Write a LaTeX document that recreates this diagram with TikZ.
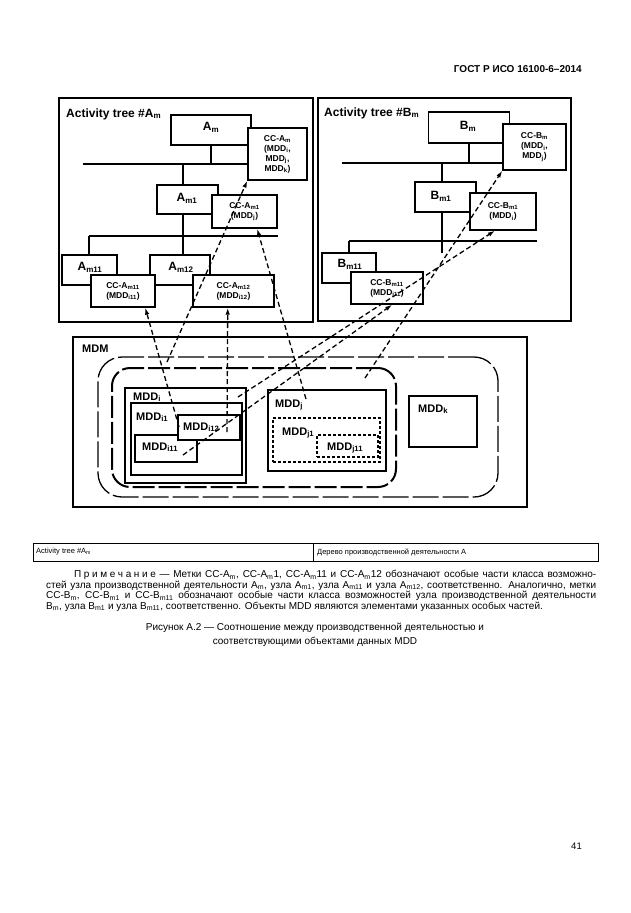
\documentclass[tikz,border=0pt]{standalone}
\usepackage{fontspec}
\setmainfont{Liberation Sans}
\usetikzlibrary{arrows.meta,calc}
\newcommand\sbx[1]{\textsubscript{#1}}
\tikzset{
 bx/.style={draw, line width=1.4pt, fill=white, inner sep=0pt},
 frm/.style={draw, line width=2pt, inner sep=0pt},
 ccbx/.style={bx, align=center, font=\fontsize{8.5}{10}\selectfont\bfseries},
 lbl/.style={font=\fontsize{12}{14}\selectfont\bfseries, inner sep=0pt},
 mlbl/.style={font=\fontsize{11}{13}\selectfont\bfseries, inner sep=0pt, anchor=base west},
 tl/.style={line width=1.4pt},
 arr/.style={line width=1.3pt, dash pattern=on 5pt off 3pt, -{Latex[length=7pt,width=4.5pt]}},
 dotbx/.style={draw, line width=1.5pt, dash pattern=on 3pt off 2pt, inner sep=0pt},
 note/.style={font=\fontsize{10}{11}\selectfont, inner sep=0pt, anchor=base west},
 capt/.style={font=\fontsize{10}{11}\selectfont, inner sep=0pt, anchor=base},
 tcell/.style={font=\fontsize{7.5}{8}\selectfont, inner sep=0pt, anchor=west},
}
\begin{document}
\begin{tikzpicture}[x=1pt,y=-1pt]
\fill[white] (0,0) rectangle (630,913);
\useasboundingbox (0,0) rectangle (630,913);

\node[font=\fontsize{10}{12}\selectfont\bfseries, anchor=base east, inner sep=0pt] (hdr) at (582,72) {ГОСТ Р ИСО 16100-6–2014};

% ---------- Tree A ----------
\node[frm, minimum width=254, minimum height=224] (treeA) at (186,210) {};
\node[lbl, anchor=base west] (ttlA) at (66,117) {Activity tree \#A\sbx{m}};
\node[bx, minimum width=80, minimum height=30] (am) at (211,130) {};
\node[bx, minimum width=61, minimum height=29] (am1) at (187.5,199.5) {};
\node[bx, minimum width=55, minimum height=30] (am11) at (89.5,270) {};
\node[bx, minimum width=60, minimum height=30] (am12) at (180,270) {};
\node[lbl] (amt) at (211,127) {A\sbx{m}};
\node[lbl] (am1t) at (187,198) {A\sbx{m1}};
\node[lbl] (am11t) at (90,267) {A\sbx{m11}};
\node[lbl] (am12t) at (181,267) {A\sbx{m12}};

\coordinate (busAl) at (83,164);
\coordinate (busAj) at (183,164);
\coordinate (busBl) at (89,236);
\draw[tl, line width=2.6pt] (am.south) -- (am.south |- busAl);
\draw[tl] (busAj) -- (am1.north -| busAj);
\draw[tl] (am1.south -| busAj) -- (busAj |- busBl);
\draw[tl] (busBl) -- (am11.north -| busBl);
\draw[tl] (busBl -| busAj) -- (am12.north -| busAj);

\node[ccbx, minimum width=59, minimum height=52] (cca) at (277.5,154) {CC-A\sbx{m}\\(MDD\sbx{i},\\MDD\sbx{j},\\MDD\sbx{k})};
\node[ccbx, minimum width=65, minimum height=33] (cca1) at (244.5,211.5) {CC-A\sbx{m1}\\(MDD\sbx{j})};
\node[ccbx, minimum width=64, minimum height=32] (cca11) at (123,291) {CC-A\sbx{m11}\\(MDD\sbx{i11})};
\node[ccbx, minimum width=81, minimum height=32] (cca12) at (233.5,291) {CC-A\sbx{m12}\\(MDD\sbx{i12})};
\draw[tl] (busAl) -- (busAl -| cca.west);
\draw[tl] (busBl) -- (busBl -| cca1.east);

% ---------- Tree B ----------
\node[frm, minimum width=253, minimum height=223] (treeB) at (444.5,209.5) {};
\node[lbl, anchor=base west] (ttlB) at (324,116) {Activity tree \#B\sbx{m}};
\node[bx, minimum width=81, minimum height=31] (bm) at (469,127.5) {};
\node[bx, minimum width=61, minimum height=30] (bm1) at (445.5,197) {};
\node[bx, minimum width=54, minimum height=30] (bm11) at (349,268) {};
\node[lbl] (bmt) at (468,126) {B\sbx{m}};
\node[lbl] (bm1t) at (441,196) {B\sbx{m1}};
\node[lbl] (bm11t) at (350,264) {B\sbx{m11}};

\coordinate (busCl) at (342,163);
\coordinate (busCj) at (442,163);
\coordinate (busDl) at (349,241);
\coordinate (stemB) at (442,253);
\draw[tl] (bm.south) -- (bm.south |- busCl);
\draw[tl] (busCj) -- (bm1.north -| busCj);
\draw[tl] (bm1.south -| busCj) -- (stemB);
\draw[tl] (busDl) -- (bm11.north -| busDl);

\node[ccbx, minimum width=63, minimum height=46] (ccb) at (534.5,147) {CC-B\sbx{m}\\(MDD\sbx{i},\\MDD\sbx{j})};
\node[ccbx, minimum width=66, minimum height=37] (ccb1) at (503,211.5) {CC-B\sbx{m1}\\(MDD\sbx{i})};
\node[ccbx, minimum width=72, minimum height=32] (ccb11) at (387,288) {CC-B\sbx{m11}\\(MDD\sbx{i11})};
\draw[tl] (busCl) -- (busCl -| ccb.west);
\draw[tl] (busDl) -- (busDl -| ccb1.east);

% ---------- MDM ----------
\node[frm, minimum width=454, minimum height=170] (mdm) at (300,422) {};
\node[mlbl] (mdmt) at (82,352) {MDM};
\node[draw, rounded corners=24pt, line width=1.3pt, dash pattern=on 26pt off 4pt, minimum width=400, minimum height=140, inner sep=0pt] (outr) at (298,427) {};
\node[draw, rounded corners=18pt, line width=2pt, dash pattern=on 22pt off 4pt, minimum width=284, minimum height=119, inner sep=0pt] (innr) at (254,427.5) {};

\node[bx, line width=2pt, minimum width=121, minimum height=95] (mi) at (185.5,435.5) {};
\node[bx, line width=1.5pt, minimum width=111, minimum height=72] (mi1) at (186.5,439) {};
\node[bx, line width=1.5pt, minimum width=62, minimum height=27] (mi11) at (166,448.5) {};
\node[bx, line width=2pt, minimum width=62, minimum height=25] (mi12) at (209,427.5) {};
\node[bx, line width=2pt, minimum width=118, minimum height=81] (mj) at (327,430.5) {};
\node[dotbx, minimum width=107, minimum height=44] (mj1) at (326.5,440) {};
\node[dotbx, minimum width=61, minimum height=22] (mj11) at (347.5,446) {};
\node[bx, line width=1.6pt, minimum width=68, minimum height=51] (mk) at (443,421.5) {};

\node[mlbl] (mit) at (133,400) {MDD\sbx{i}};
\node[mlbl] (mi1t) at (136,420) {MDD\sbx{i1}};
\node[mlbl] (mi12t) at (183,430) {MDD\sbx{i12}};
\node[mlbl] (mi11t) at (142,450) {MDD\sbx{i11}};
\node[mlbl] (mjt) at (275,407) {MDD\sbx{j}};
\node[mlbl] (mj1t) at (282,435) {MDD\sbx{j1}};
\node[mlbl] (mj11t) at (327,450) {MDD\sbx{j11}};
\node[mlbl] (mkt) at (418,412) {MDD\sbx{k}};

% ---------- dashed arrows ----------
\coordinate (s1) at (179,427);
\coordinate (s3) at (306,399);
\coordinate (s4) at (227,432);
\coordinate (s5) at (167,362);
\coordinate (s6) at (365,378);
\coordinate (sP) at (238,397);
\coordinate (sQ) at (183,455);
\draw[arr] (s1) -- ($(cca11.south west)!0.84!(cca11.south east)$);
\draw[arr] (s4) -- ($(cca12.south west)!0.43!(cca12.south east)$);
\draw[arr] (s3) -- ($(cca1.south west)!0.69!(cca1.south east)$);
\draw[arr] (s5) -- (cca.south west);
\draw[arr] (s6) -- (ccb.south west);
\draw[arr] (sP) -- ($(ccb1.south west)!0.38!(ccb1.south east)$);
\draw[arr] (sQ) -- ($(ccb11.south west)!0.57!(ccb11.south east)$);

% ---------- table ----------
\node[draw, line width=0.7pt, minimum width=565, minimum height=18, inner sep=0pt] (tbl) at (315.5,552) {};
\coordinate (tdiv) at (313,543);
\draw[line width=0.7pt] (tdiv) -- (tdiv |- tbl.south);
\node[tcell] (tc1) at (36,552) {Activity tree \#A\sbx{m}};
\node[tcell] (tc2) at (317,552) {Дерево производственной деятельности А};

% ---------- note ----------
\node[note] (n1) at (74,577.5) {\makebox[522pt][s]{П\kern2.6ptр\kern2.6ptи\kern2.6ptм\kern2.6ptе\kern2.6ptч\kern2.6ptа\kern2.6ptн\kern2.6ptи\kern2.6ptе — Метки CC-A\sbx{m}, CC-A\sbx{m}1, CC-A\sbx{m}11 и CC-A\sbx{m}12 обозначают особые части класса возможно-}};
\node[note] (n2) at (46,588) {\makebox[550pt][s]{стей узла производственной деятельности A\sbx{m}, узла A\sbx{m1}, узла A\sbx{m11} и узла A\sbx{m12}, соответственно. Аналогично, метки}};
\node[note] (n3) at (46,598.5) {\makebox[550pt][s]{CC-B\sbx{m}, CC-B\sbx{m1} и CC-B\sbx{m11} обозначают особые части класса возможностей узла производственной деятельности}};
\node[note] (n4) at (46,609) {B\sbx{m}, узла B\sbx{m1} и узла B\sbx{m11}, соответственно. Объекты MDD являются элементами указанных особых частей.};

\node[capt] (cap1) at (315,630.5) {Рисунок А.2 — Соотношение между производственной деятельностью и};
\node[capt] (cap2) at (315,644.5) {соответствующими объектами данных MDD};

\node[font=\fontsize{9.5}{11}\selectfont, anchor=base east, inner sep=0pt] (pg) at (582,849) {41};
\end{tikzpicture}
\end{document}
